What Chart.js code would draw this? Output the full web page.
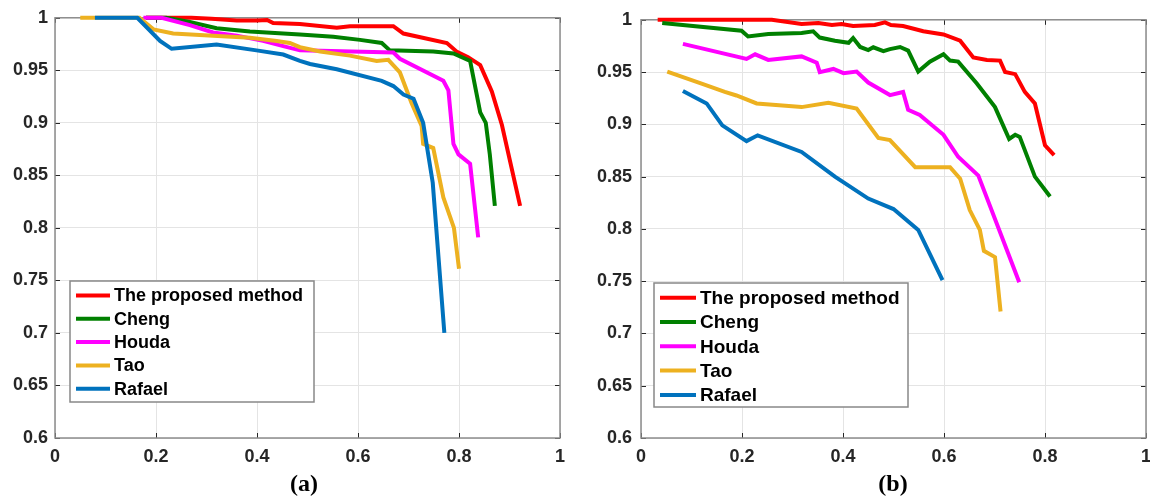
<!DOCTYPE html>
<html>
<head>
<meta charset="utf-8">
<script src="https://cdn.jsdelivr.net/npm/chart.js@4.4.1/dist/chart.umd.min.js"></script>
<style>
  body { margin: 0; background: #fff; width: 1150px; height: 500px; overflow: hidden; position: relative; }
  canvas { position: absolute; top: 0; }
  #chartA { left: 0; }
  #chartB { left: 570px; }
  .caption { position: absolute; top: 468px; width: 100px; text-align: center; line-height: 30px;
             font-family: 'Liberation Serif', 'Times New Roman', serif; font-weight: bold; font-size: 24px; color: #000; }
</style>
</head>
<body>
<canvas id="chartA" width="575" height="470"></canvas>
<canvas id="chartB" width="592" height="470"></canvas>
<div class="caption" style="left:254px">(a)</div>
<div class="caption" style="left:843px">(b)</div>

<script>
// Series names and colours (same for both panels)
const seriesNames = ['The proposed method', 'Cheng', 'Houda', 'Tao', 'Rafael'];
const seriesColors = ['#ff0000', '#008000', '#ff00ff', '#edb120', '#0072bd'];

// Axis ticks
const xTicks = [0, 0.2, 0.4, 0.6, 0.8, 1];
const xTickLabels = ['0', '0.2', '0.4', '0.6', '0.8', '1'];
const yTicks = [0.6, 0.65, 0.7, 0.75, 0.8, 0.85, 0.9, 0.95, 1];
const yTickLabels = ['0.6', '0.65', '0.7', '0.75', '0.8', '0.85', '0.9', '0.95', '1'];

// Panel (a) - [x, y] pairs
const aProposed = [[0.18,1.0],[0.27,1.0],[0.31,0.999],[0.36,0.9975],[0.40,0.9975],[0.42,0.998],[0.432,0.995],[0.485,0.994],[0.558,0.9905],[0.584,0.992],[0.67,0.992],[0.69,0.985],[0.776,0.976],[0.795,0.968],[0.818,0.9625],[0.842,0.955],[0.865,0.93],[0.885,0.898],[0.921,0.821]];
const aCheng = [[0.18,1.0],[0.22,1.0],[0.267,0.996],[0.32,0.990],[0.386,0.987],[0.485,0.984],[0.551,0.982],[0.604,0.979],[0.647,0.976],[0.663,0.969],[0.749,0.968],[0.789,0.966],[0.822,0.959],[0.842,0.910],[0.853,0.900],[0.861,0.870],[0.871,0.821]];
const aHouda = [[0.175,1.0],[0.211,1.0],[0.267,0.993],[0.313,0.986],[0.36,0.983],[0.412,0.978],[0.452,0.973],[0.485,0.969],[0.67,0.967],[0.683,0.961],[0.769,0.940],[0.779,0.931],[0.789,0.880],[0.799,0.870],[0.822,0.861],[0.838,0.791]];
const aTao = [[0.05,1.0],[0.167,1.0],[0.195,0.989],[0.234,0.985],[0.313,0.983],[0.386,0.981],[0.439,0.978],[0.465,0.976],[0.485,0.972],[0.525,0.968],[0.584,0.964],[0.637,0.959],[0.66,0.960],[0.683,0.948],[0.706,0.919],[0.726,0.897],[0.729,0.880],[0.749,0.876],[0.769,0.829],[0.79,0.800],[0.80,0.761]];
const aRafael = [[0.079,1.0],[0.163,1.0],[0.208,0.978],[0.231,0.9705],[0.32,0.9746],[0.399,0.969],[0.452,0.965],[0.485,0.959],[0.505,0.956],[0.558,0.951],[0.647,0.940],[0.67,0.935],[0.69,0.927],[0.71,0.923],[0.729,0.900],[0.748,0.843],[0.771,0.700]];

// Panel (b) - [x, y] pairs
const bProposed = [[0.033,1.0],[0.259,1.0],[0.318,0.996],[0.351,0.997],[0.378,0.995],[0.397,0.996],[0.42,0.994],[0.463,0.995],[0.483,0.9975],[0.495,0.995],[0.519,0.994],[0.559,0.989],[0.599,0.986],[0.632,0.980],[0.658,0.964],[0.685,0.9616],[0.711,0.961],[0.721,0.950],[0.741,0.948],[0.76,0.931],[0.78,0.920],[0.80,0.880],[0.818,0.8705]];
const bCheng = [[0.042,0.997],[0.199,0.9895],[0.212,0.984],[0.252,0.9864],[0.318,0.9873],[0.341,0.989],[0.354,0.983],[0.384,0.980],[0.411,0.978],[0.42,0.9826],[0.434,0.974],[0.45,0.971],[0.46,0.9737],[0.48,0.970],[0.493,0.972],[0.513,0.974],[0.529,0.9705],[0.549,0.9505],[0.572,0.960],[0.599,0.967],[0.612,0.961],[0.628,0.960],[0.665,0.939],[0.701,0.9165],[0.729,0.886],[0.741,0.890],[0.75,0.888],[0.78,0.850],[0.81,0.831]];
const bHouda = [[0.083,0.977],[0.209,0.9626],[0.226,0.967],[0.252,0.9616],[0.318,0.965],[0.348,0.959],[0.354,0.950],[0.381,0.953],[0.401,0.949],[0.427,0.9505],[0.45,0.940],[0.493,0.928],[0.519,0.931],[0.529,0.914],[0.552,0.909],[0.599,0.890],[0.628,0.869],[0.668,0.851],[0.749,0.749]];
const bTao = [[0.052,0.9505],[0.12,0.939],[0.166,0.931],[0.189,0.9276],[0.229,0.920],[0.318,0.9165],[0.371,0.9207],[0.427,0.915],[0.47,0.887],[0.493,0.885],[0.543,0.859],[0.612,0.859],[0.632,0.848],[0.651,0.818],[0.671,0.799],[0.679,0.779],[0.701,0.773],[0.712,0.721]];
const bRafael = [[0.083,0.932],[0.13,0.920],[0.161,0.899],[0.209,0.884],[0.231,0.8895],[0.318,0.8736],[0.384,0.850],[0.45,0.829],[0.5,0.819],[0.549,0.799],[0.597,0.751]];

const tickFont = { family: "'Liberation Sans', Arial, sans-serif", size: 18, weight: 'bold' };

// Axes box with inward tick marks (MATLAB style)
const boxPlugin = {
    id: 'box',
    beforeDatasetsDraw(chart) {
        const { ctx, chartArea: a, scales } = chart;
        ctx.save();
        ctx.strokeStyle = '#262626';
        ctx.lineWidth = 1;
        scales.x.ticks.forEach(t => {
            const px = Math.round(scales.x.getPixelForValue(t.value)) + 0.5;
            ctx.beginPath();
            ctx.moveTo(px, a.bottom); ctx.lineTo(px, a.bottom - 5);
            ctx.moveTo(px, a.top); ctx.lineTo(px, a.top + 5);
            ctx.stroke();
        });
        scales.y.ticks.forEach(t => {
            const py = Math.round(scales.y.getPixelForValue(t.value)) + 0.5;
            ctx.beginPath();
            ctx.moveTo(a.left, py); ctx.lineTo(a.left + 5, py);
            ctx.moveTo(a.right, py); ctx.lineTo(a.right - 5, py);
            ctx.stroke();
        });
        ctx.strokeStyle = '#8c8c8c';
        ctx.lineWidth = 1.5;
        ctx.strokeRect(a.left, a.top, a.right - a.left, a.bottom - a.top);
        ctx.restore();
    }
};

// Legend box drawn inside the plot
const boxLegend = {
    id: 'boxLegend',
    afterDatasetsDraw(chart, args, opts) {
        const { ctx } = chart;
        const sets = chart.data.datasets;
        ctx.save();
        ctx.fillStyle = '#fff';
        ctx.fillRect(opts.x, opts.y, opts.w, opts.h);
        ctx.strokeStyle = '#888';
        ctx.lineWidth = 1.5;
        ctx.strokeRect(opts.x, opts.y, opts.w, opts.h);
        ctx.font = `bold ${opts.fontSize}px 'Liberation Sans', Arial, sans-serif`;
        ctx.textBaseline = 'middle';
        sets.forEach((ds, i) => {
            const cy = opts.y + opts.first + i * opts.row;
            ctx.strokeStyle = ds.borderColor;
            ctx.lineWidth = 4;
            ctx.beginPath();
            ctx.moveTo(opts.x + 6, cy);
            ctx.lineTo(opts.x + opts.line, cy);
            ctx.stroke();
            ctx.fillStyle = '#000';
            ctx.fillText(ds.label, opts.x + opts.line + 4, cy + 1);
        });
        ctx.restore();
    }
};

function makeChart(id, series, cfg) {
    const datasets = series.map((pts, i) => ({
        label: seriesNames[i],
        data: pts.map(p => ({ x: p[0], y: p[1] })),
        borderColor: seriesColors[i],
        borderWidth: 4,
        pointRadius: 0,
        tension: 0,
        clip: false,
        order: series.length - i
    }));

    return new Chart(document.getElementById(id), {
        type: 'line',
        data: { datasets },
        plugins: [boxPlugin, boxLegend],
        options: {
            responsive: false,
            animation: false,
            layout: { padding: { top: 17, right: cfg.padRight, left: 0, bottom: 0 } },
            plugins: {
                legend: { display: false },
                tooltip: { enabled: false },
                boxLegend: cfg.legend
            },
            scales: {
                x: {
                    type: 'linear',
                    min: 0, max: 1,
                    afterBuildTicks: s => { s.ticks = xTicks.map(v => ({ value: v })); },
                    afterFit: s => { s.height = 32; },
                    grid: { color: '#e4e4e4', drawTicks: false },
                    border: { display: false },
                    ticks: {
                        font: tickFont, color: '#262626', padding: 8, maxRotation: 0,
                        callback: (v, i) => xTickLabels[i]
                    }
                },
                y: {
                    min: 0.6, max: 1,
                    afterBuildTicks: s => { s.ticks = yTicks.map(v => ({ value: v })); },
                    afterFit: s => { s.width = cfg.axisWidth; },
                    grid: { color: '#e4e4e4', drawTicks: false },
                    border: { display: false },
                    ticks: {
                        font: tickFont, color: '#262626', padding: cfg.yPad,
                        callback: (v, i) => yTickLabels[i]
                    }
                }
            }
        }
    });
}

makeChart('chartA', [aProposed, aCheng, aHouda, aTao, aRafael], {
    axisWidth: 55, padRight: 15, yPad: 7,
    legend: { x: 70, y: 281, w: 244, h: 121, first: 14.5, row: 23.3, line: 40, fontSize: 18 }
});

makeChart('chartB', [bProposed, bCheng, bHouda, bTao, bRafael], {
    axisWidth: 71, padRight: 16, yPad: 9,
    legend: { x: 84, y: 283, w: 254, h: 124, first: 14.7, row: 24.3, line: 42, fontSize: 19 }
});
</script>
</body>
</html>
